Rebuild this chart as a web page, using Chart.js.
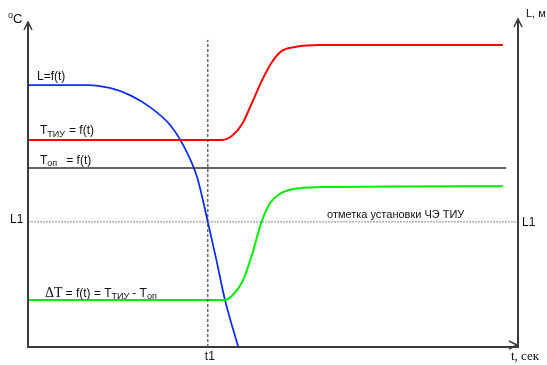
<!DOCTYPE html>
<html>
<head>
<meta charset="utf-8">
<script src="https://cdn.jsdelivr.net/npm/chart.js@4.4.0/dist/chart.umd.min.js"></script>
<style>
  html, body { margin: 0; padding: 0; background: #fff; }
  canvas { display: block; }
</style>
</head>
<body>
<canvas id="chart" width="547" height="365"></canvas>
<script>
// time axis 0..100, value axis 0..100 (arbitrary units)
var lTime  = [0, 12.2, 16.7, 20.8, 24.9, 29.0, 32.0, 34.5, 36.7, 38.4, 40.2, 42.9];
var lLevel = [80.6, 80.6, 79.7, 77.5, 73.8, 68.3, 61.2, 52.3, 38.5, 27.1, 14.5, 0];

var tiuTime = [0, 39.6, 41.6, 43.7, 45.7, 47.8, 49.8, 51.8, 54.5, 59.6, 96.9];
var tiuTemp = [63.7, 63.7, 64.9, 68.6, 75.1, 82.2, 87.7, 91.1, 92.3, 92.9, 92.9];

var opTime = [0, 97.6];
var opTemp = [55.1, 55.1];

var dTime = [0, 40.2, 41.8, 43.9, 45.7, 47.6, 49.4, 51.4, 54.1, 59.6, 96.9];
var dTemp = [14.5, 14.5, 16.0, 20.6, 28.3, 38.2, 44.3, 47.1, 48.6, 49.2, 49.5];

var t1 = 36.7;
var L1 = 38.5;
var tickLabels = ['t1', 'L1'];
var axisNames = ['\u00b0C', 'L, \u043c', 't, \u0441\u0435\u043a'];
var markText = '\u043e\u0442\u043c\u0435\u0442\u043a\u0430 \u0443\u0441\u0442\u0430\u043d\u043e\u0432\u043a\u0438 \u0427\u042d \u0422\u0418\u0423';

function pts(xs, ys) {
  return xs.map(function (x, i) { return { x: x, y: ys[i] }; });
}

var SANS = "'Liberation Sans', Arial, sans-serif";
var SERIF = "'Liberation Serif', 'Times New Roman', serif";

// draws pieces of text one after another (for subscripts)
function drawParts(ctx, x, y, parts) {
  parts.forEach(function (p) {
    ctx.font = p.font;
    ctx.fillText(p.text, x, y + (p.dy || 0));
    x += ctx.measureText(p.text).width + (p.gap || 0);
  });
}

function arrowHead(ctx, x, y, dir) {
  ctx.beginPath();
  if (dir === 'up') {
    ctx.moveTo(x - 4, y + 8); ctx.lineTo(x, y); ctx.lineTo(x + 4, y + 8);
  } else {
    ctx.moveTo(x - 8, y - 4); ctx.lineTo(x, y); ctx.lineTo(x - 8, y + 4);
  }
  ctx.stroke();
}

var sketch = {
  id: 'sketch',
  afterDraw: function (chart) {
    var ctx = chart.ctx;
    var xs = chart.scales.x, ys = chart.scales.y;
    var a = chart.chartArea;
    var x0 = xs.getPixelForValue(0), xr = a.right;
    var y0 = ys.getPixelForValue(0);
    ctx.save();
    // axes
    ctx.strokeStyle = '#3a3a3a';
    ctx.lineWidth = 2;
    ctx.beginPath();
    ctx.moveTo(x0, y0 + 1); ctx.lineTo(x0, a.top);
    ctx.moveTo(xr, y0 + 1); ctx.lineTo(xr, a.top - 3);
    ctx.moveTo(x0 - 1, y0); ctx.lineTo(xr - 1, y0);
    ctx.stroke();
    ctx.lineWidth = 1.5;
    arrowHead(ctx, x0, a.top, 'up');
    arrowHead(ctx, xr, a.top - 3, 'up');
    arrowHead(ctx, xr - 1, y0 - 2, 'right');

    ctx.fillStyle = '#111';
    ctx.textBaseline = 'alphabetic';
    ctx.textAlign = 'left';
    // axis names
    drawParts(ctx, 8, 23, [{ text: 'o', font: '9px ' + SANS, dy: -5 }, { text: 'C', font: '13px ' + SANS }]);
    ctx.font = '11px ' + SANS;
    ctx.fillText(axisNames[1], xr + 8, 17);
    ctx.font = '13px ' + SERIF;
    ctx.fillText(axisNames[2], xr - 7, 360);

    // t1 / L1 marks
    var yL1 = ys.getPixelForValue(L1);
    ctx.font = '12px ' + SANS;
    ctx.textAlign = 'center';
    ctx.fillText(tickLabels[0], xs.getPixelForValue(t1) + 2, 360);
    ctx.textAlign = 'left';
    ctx.fillText(tickLabels[1], 10, yL1 + 1);
    ctx.fillText(tickLabels[1], xr + 4, yL1 + 4);
    ctx.font = '11px ' + SANS;
    ctx.fillText(markText, 327, yL1 - 4);

    // curve labels
    ctx.font = '12px ' + SANS;
    ctx.fillText('L=f(t)', x0 + 9, 80);
    drawParts(ctx, x0 + 12, 134, [
      { text: 'T', font: '12px ' + SANS },
      { text: '\u0422\u0418\u0423', font: '9px ' + SANS, dy: 3, gap: 4 },
      { text: '= f(t)', font: '12px ' + SANS }
    ]);
    drawParts(ctx, x0 + 12, 164, [
      { text: 'T', font: '12px ' + SANS },
      { text: '\u043e\u043f', font: '9px ' + SANS, dy: 2, gap: 9 },
      { text: '= f(t)', font: '12px ' + SANS }
    ]);
    drawParts(ctx, x0 + 17, 297, [
      { text: '\u0394T', font: '14px ' + SERIF, gap: 3 },
      { text: '= f(t) = T', font: '12px ' + SANS },
      { text: '\u0422\u0418\u0423', font: '9px ' + SANS, dy: 2, gap: 3 },
      { text: '- T', font: '12px ' + SANS },
      { text: '\u043e\u043f', font: '9px ' + SANS, dy: 2 }
    ]);
    ctx.restore();
  }
};

new Chart(document.getElementById('chart'), {
  type: 'line',
  data: {
    datasets: [
      { data: pts([0, 100], [L1, L1]), borderColor: '#888', borderWidth: 1, borderDash: [2, 1] },
      { data: pts([t1, t1], [0, 94.5]), borderColor: '#222', borderWidth: 1, borderDash: [3, 2] },
      { data: pts(opTime, opTemp), borderColor: '#333', borderWidth: 1.6 },
      { data: pts(dTime, dTemp), borderColor: '#00ee00', borderWidth: 2, cubicInterpolationMode: 'monotone' },
      { data: pts(tiuTime, tiuTemp), borderColor: '#ff0000', borderWidth: 2, cubicInterpolationMode: 'monotone' },
      { data: pts(lTime, lLevel), borderColor: '#1030ee', borderWidth: 1.8, cubicInterpolationMode: 'monotone' }
    ]
  },
  options: {
    responsive: false,
    animation: false,
    devicePixelRatio: 1,
    layout: { padding: { left: 28, right: 29, top: 22, bottom: 18 } },
    elements: { point: { radius: 0 } },
    plugins: { legend: { display: false }, tooltip: { enabled: false } },
    scales: {
      x: { type: 'linear', min: 0, max: 100, display: false },
      y: { type: 'linear', min: 0, max: 100, display: false }
    }
  },
  plugins: [sketch]
});
</script>
</body>
</html>
